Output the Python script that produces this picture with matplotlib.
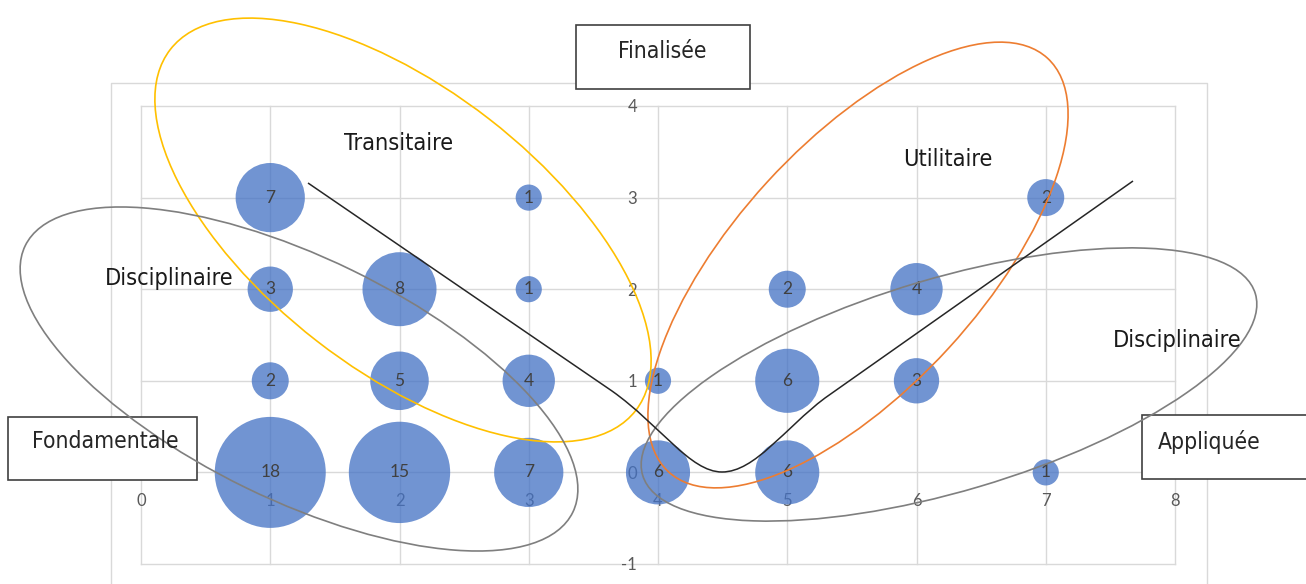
import matplotlib
matplotlib.use("Agg")
import matplotlib.pyplot as plt
from matplotlib.patches import Ellipse, Rectangle, PathPatch
from matplotlib.path import Path
import numpy as np

# ---- data ----
x_vals = [1, 1, 1, 1, 2, 2, 2, 3, 3, 3, 3, 4, 4, 5, 5, 5, 6, 6, 7, 7]
y_vals = [3, 2, 1, 0, 2, 1, 0, 3, 2, 1, 0, 1, 0, 2, 1, 0, 2, 1, 3, 0]
counts = [7, 3, 2, 18, 8, 5, 15, 1, 1, 4, 7, 1, 6, 2, 6, 6, 4, 3, 2, 1]
x_ticks = [0, 1, 2, 3, 4, 5, 6, 7, 8]
y_ticks = [-1, 0, 1, 2, 3, 4]

W, H = 1306, 584
plt.rcParams['font.family'] = ['Lato', 'DejaVu Sans']
plt.rcParams['axes.unicode_minus'] = False
fig = plt.figure(figsize=(W / 100, H / 100), dpi=100)

# main axes: x=0 at px 141, x=8 at px 1175; y=4 at px 106, y=-1 at px 564
L, R, T, B = 141, 1175, 106, 564
ax = fig.add_axes([L / W, 1 - B / H, (R - L) / W, (B - T) / H])
ax.set_xlim(0, 8)
ax.set_ylim(-1, 4)
for s in ax.spines.values():
    s.set_visible(False)
ax.spines['left'].set_position(('data', 4))
ax.spines['bottom'].set_position(('data', 0))
ax.set_xticks(x_ticks)
ax.set_yticks(y_ticks)
ax.tick_params(length=0, labelsize=12, labelcolor='#595959')
ax.tick_params(axis='x', pad=15)
ax.tick_params(axis='y', pad=15)
ax.grid(True, color='#d9d9d9', linewidth=1.0, zorder=0)
ax.set_axisbelow(True)
for gl in ax.get_xgridlines() + ax.get_ygridlines():
    gl.set_clip_on(False)

# bubbles: max diameter ~111 px for value 18
max_d_pt = 111 * 72 / 100
k = max_d_pt ** 2 / max(counts)
ax.scatter(x_vals, y_vals, s=np.array(counts) * k, color='#4472C4', alpha=0.76,
           edgecolors='none', zorder=2, clip_on=False)
for xv, yv, c in zip(x_vals, y_vals, counts):
    ax.text(xv, yv, str(c), ha='center', va='center', fontsize=12.5,
            color='#404040', zorder=3)

# overlay in pixel coordinates for annotations
ov = fig.add_axes([0, 0, 1, 1], facecolor='none')
ov.set_xlim(0, W)
ov.set_ylim(H, 0)
ov.axis('off')

# outer frame lines
ov.plot([111, 111, 1206.5, 1206.5], [H, 82.5, 82.5, H], color='#d9d9d9', lw=1.0, zorder=1)

ann_font = dict(family=['DejaVu Sans'], stretch='condensed')

# text boxes
boxes = [
    ((576, 25), 174, 64, 'Finalisée', (662, 52)),
    ((8, 417), 189, 63, 'Fondamentale', (105, 442)),
    ((1142, 415), 180, 64, 'Appliquée', (1209, 442)),
]
for (bx, by), bw, bh, txt, (tx, ty) in boxes:
    ov.add_patch(Rectangle((bx, by), bw, bh, facecolor='white', edgecolor='#404040',
                           lw=1.2, zorder=2))
    ov.text(tx, ty, txt, ha='center', va='center', fontsize=16.4, color='#262626',
            zorder=5, **ann_font)

# ellipses
ells = [
    ((403, 230), 589, 281, 37.8, '#FFC000'),
    ((858, 265), 561, 246, -47.5, '#ED7D31'),
    ((299, 379), 609, 242, 25.95, '#7F7F7F'),
    ((949, 384.5), 639, 213, -16.5, '#7F7F7F'),
]
for c, w, h, a, col in ells:
    ov.add_patch(Ellipse(c, w, h, angle=a, fill=False, edgecolor=col, lw=1.2, zorder=3))

# black V curve
verts = [(308, 183), (612, 391), (660, 425), (690, 472), (722, 472),
         (755, 472), (785, 428), (825, 398), (1133, 181)]
codes = [Path.MOVETO, Path.LINETO, Path.CURVE4, Path.CURVE4, Path.CURVE4,
         Path.CURVE4, Path.CURVE4, Path.CURVE4, Path.LINETO]
ov.add_patch(PathPatch(Path(verts, codes), fill=False, edgecolor='#262626', lw=1.1, zorder=3))

# region labels
labels = [('Transitaire', 399, 143), ('Utilitaire', 948, 160),
          ('Disciplinaire', 169, 278), ('Disciplinaire', 1177, 340)]
for t, x, y in labels:
    ov.text(x, y, t, ha='center', va='center', fontsize=16.8, color='#1a1a1a',
            zorder=5, **ann_font)

fig.savefig('out.png', dpi=100)
